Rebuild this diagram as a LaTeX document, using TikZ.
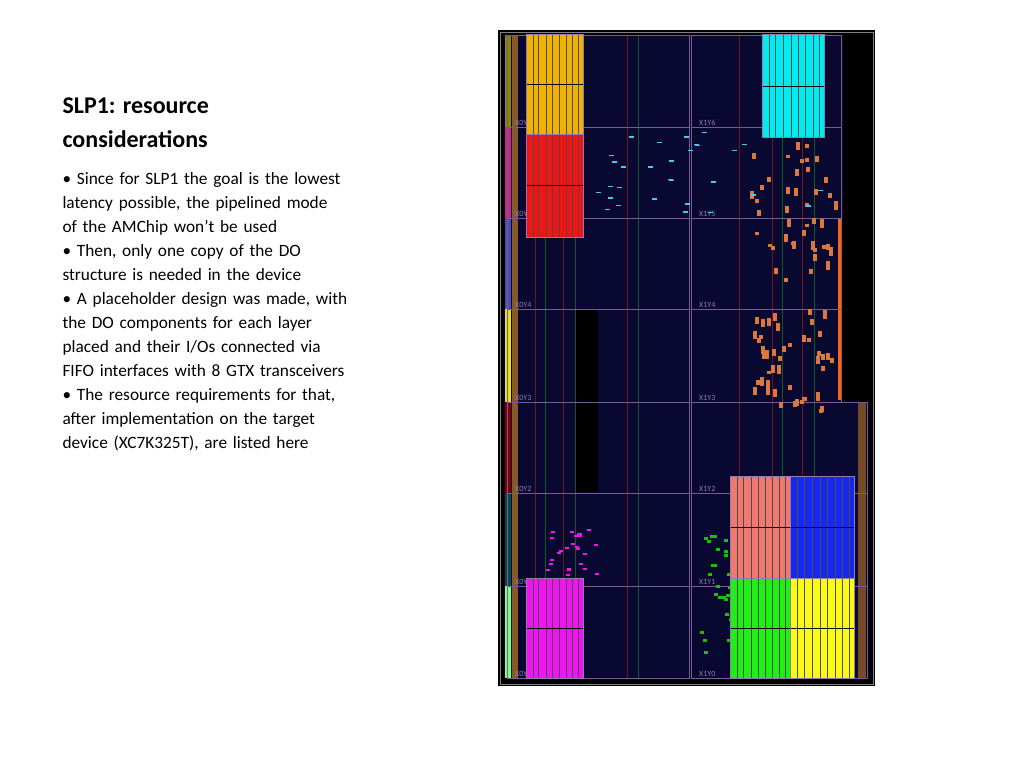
\documentclass[tikz,border=0pt]{standalone}
\usepackage{fontspec}
\setmainfont{Carlito}
\usetikzlibrary{positioning}

\definecolor{navy}{RGB}{8,8,48}
\definecolor{regline}{RGB}{120,90,150}
\definecolor{redline}{RGB}{110,20,30}
\definecolor{greenline}{RGB}{20,90,30}
\definecolor{blkorange}{RGB}{240,180,0}
\definecolor{blkred}{RGB}{240,20,20}
\definecolor{blkcyan}{RGB}{0,235,240}
\definecolor{blkpink}{RGB}{240,20,240}
\definecolor{blksalmon}{RGB}{240,120,110}
\definecolor{blkblue}{RGB}{20,40,240}
\definecolor{blkgreen}{RGB}{30,240,20}
\definecolor{blkyellow}{RGB}{250,250,20}
\definecolor{dotorange}{RGB}{220,120,60}

\tikzset{
    bodytext/.style={anchor=north west, align=left, font=\fontsize{17.3}{24}\selectfont},
    title/.style={anchor=north west, align=left, font=\fontsize{24}{34}\selectfont\bfseries},
    reglabel/.style={anchor=south west, inner sep=1pt, font=\fontsize{8}{8}\selectfont},
}

% block of placed logic: fill colour, corners
\newcommand{\logicblock}[5]{%
    \fill[#1] (#2,#3) rectangle (#4,#5);
    \foreach \xx in {0.12,0.22,0.35,0.47,0.58,0.7,0.82,0.92}
        \draw[black!70, line width=0.6pt] ({#2+\xx*(#4-#2)},#3) -- ({#2+\xx*(#4-#2)},#5);
    \draw[black, line width=1pt] (#2,{(#3+#5)/2}) -- (#4,{(#3+#5)/2});
    \draw[regline!80!white, line width=1pt] (#2,#3) rectangle (#4,#5);
}

\begin{document}
\begin{tikzpicture}[x=1pt, y=-1pt]
    \useasboundingbox (0,0) rectangle (1024,768);

    % slide text
    \node[title] (head) at (59,94) {SLP1: resource\\considerations};
    \node[bodytext, text width=330pt] (body) at (59,169)
        {• Since for SLP1 the goal is the lowest\\
        latency possible, the pipelined mode\\
        of the AMChip won't be used\\
        • Then, only one copy of the DO\\
        structure is needed in the device\\
        • A placeholder design was made, with\\
        the DO components for each layer\\
        placed and their I/Os connected via\\
        FIFO interfaces with 8 GTX transceivers\\
        • The resource requirements for that,\\
        after implementation on the target\\
        device (XC7K325T), are listed here};

    % device floorplan
    \fill[black] (498,30) rectangle (875,686);
    \draw[gray, line width=0.8pt] (500,32) rectangle (873,684);
    \fill[navy] (505,35) rectangle (843,402);
    \fill[navy] (505,402) rectangle (869,678);
    \fill[black] (576,309) rectangle (598,492);

    % left edge column stripes
    \foreach \ya/\yb/\cc in {35/127/olive, 127/218/magenta!80!black,
        218/309/blue!40!gray, 309/402/yellow!90!black, 402/493/red!50!black,
        493/586/teal!60!black, 586/678/green!50!white}
        \fill[\cc] (505,\ya) rectangle (511,\yb);
    \fill[brown!70!black] (512,35) rectangle (518,678);
    \fill[brown!60!black] (858,402) rectangle (866,678);
    \fill[orange!80!red] (838,218) rectangle (842,400);

    % clock column lines
    \foreach \xx in {535,563,627,739,772,802}
        \draw[redline, line width=0.8pt] (\xx,35) -- (\xx,678);
    \foreach \xx in {545,575,638,782,814}
        \draw[greenline, line width=0.8pt] (\xx,35) -- (\xx,678);

    % clock regions
    \foreach \ya/\yb/\n in {35/127/6, 127/218/5, 218/309/4, 309/402/3} {
        \draw[regline, line width=0.6pt] (507,\ya) rectangle (689,\yb);
        \draw[regline, line width=0.6pt] (691,\ya) rectangle (841,\yb);
        \node[reglabel, text=regline!80!white] at (514,\yb) {X0Y\n};
        \node[reglabel, text=regline!80!white] at (698,\yb) {X1Y\n};
    }
    \foreach \ya/\yb/\n in {402/493/2, 493/586/1, 586/678/0} {
        \draw[regline, line width=0.6pt] (507,\ya) rectangle (689,\yb);
        \draw[regline, line width=0.6pt] (691,\ya) rectangle (867,\yb);
        \node[reglabel, text=regline!80!white] at (514,\yb) {X0Y\n};
        \node[reglabel, text=regline!80!white] at (698,\yb) {X1Y\n};
    }

    % scattered cells
    \pgfmathsetseed{7}
    \foreach \i in {1,...,90} {
        \pgfmathsetmacro{\px}{750+rnd*85}
        \pgfmathsetmacro{\py}{140+rnd*270}
        \fill[dotorange] (\px,\py) rectangle ++(4,{3+rnd*6});
    }
    \foreach \i in {1,...,30} {
        \pgfmathsetmacro{\px}{585+rnd*240}
        \pgfmathsetmacro{\py}{130+rnd*90}
        \fill[cyan!70!white] (\px,\py) rectangle ++(5,1.5);
    }
    \foreach \i in {1,...,25} {
        \pgfmathsetmacro{\px}{540+rnd*60}
        \pgfmathsetmacro{\py}{525+rnd*50}
        \fill[blkpink] (\px,\py) rectangle ++(4,2);
    }
    \foreach \i in {1,...,25} {
        \pgfmathsetmacro{\px}{700+rnd*30}
        \pgfmathsetmacro{\py}{530+rnd*140}
        \fill[blkgreen!80!black] (\px,\py) rectangle ++(4,3);
    }

    % placed logic blocks
    \logicblock{blkorange}{526}{35}{583}{134}
    \logicblock{blkred}{526}{134}{583}{237}
    \logicblock{blkcyan}{762}{35}{824}{137}
    \logicblock{blkpink}{526}{578}{583}{678}
    \logicblock{blksalmon}{730}{476}{790}{578}
    \logicblock{blkblue}{790}{476}{854}{578}
    \logicblock{blkgreen}{730}{578}{790}{678}
    \logicblock{blkyellow}{790}{578}{854}{678}
\end{tikzpicture}
\end{document}
